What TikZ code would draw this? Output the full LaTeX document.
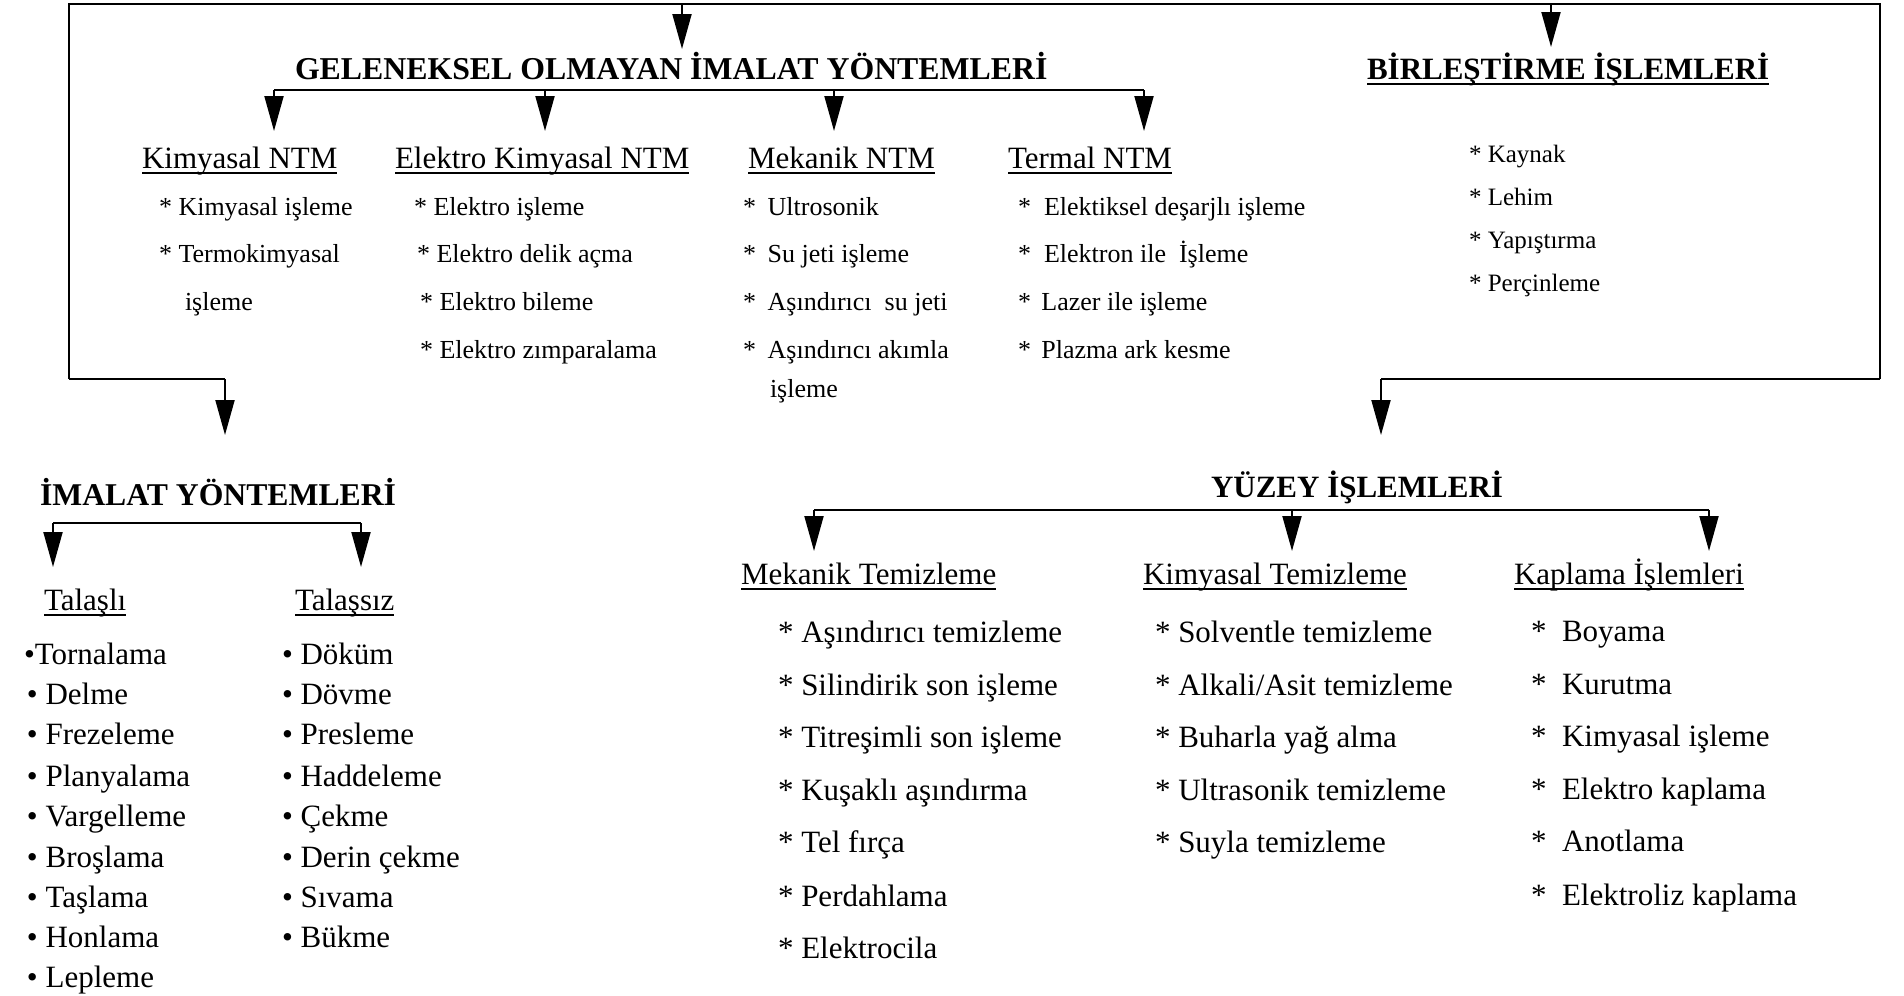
\documentclass[tikz,border=0pt]{standalone}
\usepackage{fontspec}
\setmainfont{Liberation Serif}
\usetikzlibrary{arrows.meta}
\begin{document}
\begin{tikzpicture}[x=1pt,y=-1pt,
  every node/.style={inner sep=0pt, outer sep=0pt},
  ln/.style={line width=2pt},
  arr/.style={line width=2pt,-{Triangle[length=35pt,width=19pt]}},
  tA/.style={anchor=base west,font=\fontsize{31}{36}\selectfont},
  tB/.style={anchor=base west,font=\fontsize{26}{30}\selectfont},
  tC/.style={anchor=base west,font=\fontsize{25}{30}\selectfont},
  ttl/.style={anchor=base west,font=\fontsize{31}{36}\selectfont\bfseries},
  ulin/.style={line width=1.8pt}
]
\useasboundingbox (0,0) rectangle (1904,996);

% ---- outer frame ----
\coordinate (tl) at (69,4); \coordinate (tr) at (1880,4);
\coordinate (lb) at (69,379); \coordinate (rb) at (1880,379);
\coordinate (lbe) at (225,379); \coordinate (rbe) at (1381,379);
\coordinate (la) at (225,435); \coordinate (ra) at (1381,435);
\coordinate (g0) at (682,4); \coordinate (g1) at (682,49);
\coordinate (b0) at (1551,4); \coordinate (b1) at (1551,47);
\draw[ln] (lb) -- (tl) -- (tr) -- (rb);
\draw[ln] (lb) -- (lbe); \draw[arr] (lbe) -- (la);
\draw[ln] (rb) -- (rbe); \draw[arr] (rbe) -- (ra);
\draw[arr] (g0) -- (g1);
\draw[arr] (b0) -- (b1);

% ---- GELENEKSEL OLMAYAN ----
\node[ttl,font=\fontsize{31.8}{36}\selectfont\bfseries] (gt) at (295,79) {GELENEKSEL OLMAYAN İMALAT YÖNTEMLERİ};
\coordinate (gl) at (274,90); \coordinate (gr) at (1144,90);
\draw[ln] (gl) -- (gr);
\foreach \x [count=\i] in {274,545,834,1144}{
  \coordinate (ga\i) at (\x,90); \coordinate (gb\i) at (\x,131);
  \draw[arr] (ga\i) -- (gb\i);
}
\node[tA] (h1) at (142,168) {Kimyasal NTM};
\node[tA] (h2) at (395,168) {Elektro Kimyasal NTM};
\node[tA] (h3) at (748,168) {Mekanik NTM};
\node[tA] (h4) at (1008,168) {Termal NTM};

\node[tB] (k1) at (159,215) {* Kimyasal işleme};
\node[tB] (k2) at (159,262) {* Termokimyasal};
\node[tB] (k3) at (185,310) {işleme};

\node[tB] (e1) at (414,215) {* Elektro işleme};
\node[tB] (e2) at (417,262) {* Elektro delik açma};
\node[tB] (e3) at (420,310) {* Elektro bileme};
\node[tB] (e4) at (420,358) {* Elektro zımparalama};

\node[tB] (m1) at (743,215) {*\hspace{0.45em}Ultrosonik};
\node[tB] (m2) at (743,262) {*\hspace{0.45em}Su jeti işleme};
\node[tB] (m3) at (743,310) {*\hspace{0.45em}Aşındırıcı\ \ su jeti};
\node[tB] (m4) at (743,358) {*\hspace{0.45em}Aşındırıcı akımla};
\node[tB] (m5) at (770,397) {işleme};

\node[tB] (t1) at (1018,215) {*\hspace{0.5em}Elektiksel deşarjlı işleme};
\node[tB] (t2) at (1018,262) {*\hspace{0.5em}Elektron ile\ \ İşleme};
\node[tB] (t3) at (1018,310) {*\hspace{0.4em}Lazer ile işleme};
\node[tB] (t4) at (1018,358) {*\hspace{0.4em}Plazma ark kesme};

% ---- BIRLESTIRME ----
\node[ttl] (bt) at (1367,79) {BİRLEŞTİRME İŞLEMLERİ};
\node[tC] (bi1) at (1469,162) {* Kaynak};
\node[tC] (bi2) at (1469,205) {* Lehim};
\node[tC] (bi3) at (1469,248) {* Yapıştırma};
\node[tC] (bi4) at (1469,291) {* Perçinleme};

% ---- IMALAT YONTEMLERI ----
\node[ttl,font=\fontsize{31.7}{36}\selectfont\bfseries] (it) at (40,505) {İMALAT YÖNTEMLERİ};
\coordinate (il) at (53,523); \coordinate (ir) at (361,523);
\coordinate (il2) at (53,567); \coordinate (ir2) at (361,567);
\draw[ln] (il) -- (ir);
\draw[arr] (il) -- (il2);
\draw[arr] (ir) -- (ir2);
\node[tA] (s1) at (44,610) {Talaşlı};
\node[tA] (s2) at (295,610) {Talaşsız};
\node[tA] (l1) at (24,664) {•Tornalama};
\foreach \y/\t [count=\i from 2] in {704/Delme,744/Frezeleme,786/Planyalama,826/Vargelleme,867/Broşlama,907/Taşlama,947/Honlama,987/Lepleme}{
  \node[tA] (l\i) at (27,\y) {•\ \t};
}
\foreach \y/\t [count=\i] in {664/Döküm,704/Dövme,744/Presleme,786/Haddeleme,826/Çekme,867/Derin çekme,907/Sıvama,947/Bükme}{
  \node[tA] (r\i) at (282,\y) {•\ \t};
}

% ---- YUZEY ISLEMLERI ----
\node[ttl] (yt) at (1211,497) {YÜZEY İŞLEMLERİ};
\coordinate (yl) at (814,510); \coordinate (yr) at (1709,510);
\draw[ln] (yl) -- (yr);
\foreach \x [count=\i] in {814,1292,1709}{
  \coordinate (ya\i) at (\x,510); \coordinate (yb\i) at (\x,551);
  \draw[arr] (ya\i) -- (yb\i);
}
\node[tA] (y1) at (741,584) {Mekanik Temizleme};
\node[tA] (y2) at (1143,584) {Kimyasal Temizleme};
\node[tA] (y3) at (1514,584) {Kaplama İşlemleri};

\foreach \y/\t [count=\i] in {642/{Aşındırıcı temizleme},695/{Silindirik son işleme},747/{Titreşimli son işleme},800/{Kuşaklı aşındırma},852/{Tel fırça},906/{Perdahlama},958/{Elektrocila}}{
  \node[tA] (ma\i) at (778,\y) {*\ \t};
}
\foreach \y/\t [count=\i] in {642/{Solventle temizleme},695/{Alkali/Asit temizleme},747/{Buharla yağ alma},800/{Ultrasonik temizleme},852/{Suyla temizleme}}{
  \node[tA] (ka\i) at (1155,\y) {*\ \t};
}
\foreach \y/\t [count=\i] in {641/{Boyama},694/{Kurutma},746/{Kimyasal işleme},799/{Elektro kaplama},851/{Anotlama},905/{Elektroliz kaplama}}{
  \node[tA] (pa\i) at (1531,\y) {*\hspace{0.5em}\t};
}

% ---- underlines ----
\foreach \n in {h1,h2,h3,h4,bt,s1,s2,y1,y2,y3}{
  \draw[ulin] ([yshift=-5pt]\n.base west) -- ([yshift=-5pt]\n.base east);
}
\end{tikzpicture}
\end{document}
